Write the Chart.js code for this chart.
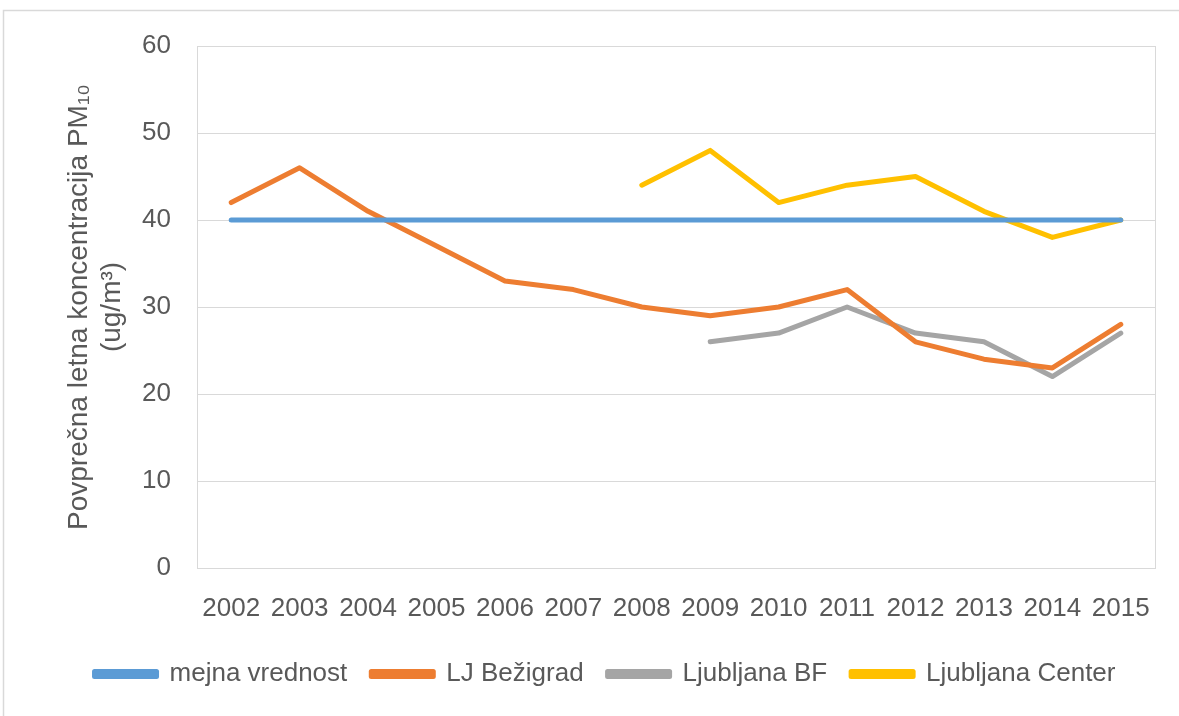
<!DOCTYPE html>
<html lang="sl">
<head>
  <meta charset="UTF-8" />
  <title>PM10 Ljubljana</title>
  <script src="https://cdn.jsdelivr.net/npm/chart.js"></script>
  <style>
    html, body { margin: 0; padding: 0; background: #fff; }
    #wrap { position: relative; width: 1179px; height: 716px; }
  </style>
</head>
<body>
  <div id="wrap"><canvas id="pmChart"></canvas></div>

  <script>
    // data
    const years = ['2002', '2003', '2004', '2005', '2006', '2007', '2008', '2009', '2010', '2011', '2012', '2013', '2014', '2015'];
    const mejnaVrednost = [40, 40, 40, 40, 40, 40, 40, 40, 40, 40, 40, 40, 40, 40];
    const ljBezigrad = [42, 46, 41, 37, 33, 32, 30, 29, 30, 32, 26, 24, 23, 28];
    const ljubljanaBF = [null, null, null, null, null, null, null, 26, 27, 30, 27, 26, 22, 27];
    const ljubljanaCenter = [null, null, null, null, null, null, 44, 48, 42, 44, 45, 41, 38, 40];
    const yTicks = [0, 10, 20, 30, 40, 50, 60];

    const textGray = '#595959';
    const gridGray = '#d9d9d9';
    const font = 'Liberation Sans';

    function lineSet(label, data, color) {
      return {
        label: label,
        data: data,
        borderColor: color,
        backgroundColor: color,
        borderWidth: 5,
        borderCapStyle: 'round',
        borderJoinStyle: 'round',
        pointRadius: 0,
        tension: 0,
        spanGaps: false
      };
    }

    // frame around the whole chart + border round the plot area
    const frames = {
      id: 'frames',
      beforeDraw(chart) {
        const ctx = chart.ctx;
        ctx.save();
        ctx.strokeStyle = gridGray;
        ctx.lineWidth = 1.5;
        ctx.strokeRect(3.5, 10.5, 1300, 900);
        ctx.restore();
      },
      beforeDatasetsDraw(chart) {
        const a = chart.chartArea;
        const ctx = chart.ctx;
        ctx.save();
        ctx.strokeStyle = gridGray;
        ctx.lineWidth = 1;
        ctx.strokeRect(Math.round(a.left) + 0.5, Math.round(a.top) + 0.5, Math.round(a.right - a.left), Math.round(a.bottom - a.top));
        ctx.restore();
      }
    };

    new Chart(document.getElementById('pmChart'), {
      type: 'line',
      data: {
        labels: years,
        datasets: [
          lineSet('mejna vrednost', mejnaVrednost, '#5b9bd5'),
          lineSet('LJ Bežigrad', ljBezigrad, '#ed7d31'),
          lineSet('Ljubljana BF', ljubljanaBF, '#a5a5a5'),
          lineSet('Ljubljana Center', ljubljanaCenter, '#ffc000')
        ]
      },
      options: {
        responsive: true,
        maintainAspectRatio: false,
        animation: false,
        layout: { padding: { left: 55, right: 24, top: 46, bottom: 19 } },
        plugins: {
          tooltip: { enabled: false },
          legend: {
            position: 'bottom',
            labels: {
              color: textGray,
              font: { family: font, size: 26 },
              boxWidth: 62,
              boxHeight: 5,
              padding: 24
            }
          }
        },
        scales: {
          x: {
            offset: true,
            afterFit(scale) {
              scale.height = 69;
            },
            grid: { display: false, drawTicks: false },
            border: { display: false },
            ticks: {
              color: textGray,
              font: { family: font, size: 26 },
              padding: 25,
              maxRotation: 0,
              autoSkip: false
            }
          },
          y: {
            min: 0,
            max: 60,
            afterBuildTicks(scale) {
              scale.ticks = yTicks.map(v => ({ value: v }));
            },
            afterFit(scale) {
              scale.width = 142;
            },
            grid: { color: gridGray, lineWidth: 1, drawTicks: false },
            border: { display: false },
            ticks: {
              color: textGray,
              font: { family: font, size: 26 },
              padding: 26
            },
            title: {
              display: true,
              text: ['Povprečna letna koncentracija PM₁₀', '(ug/m³)'],
              color: textGray,
              font: { family: font, size: 28, lineHeight: 1.18 },
              padding: { top: 8, bottom: 0 }
            }
          }
        }
      },
      plugins: [frames]
    });
  </script>
</body>
</html>
